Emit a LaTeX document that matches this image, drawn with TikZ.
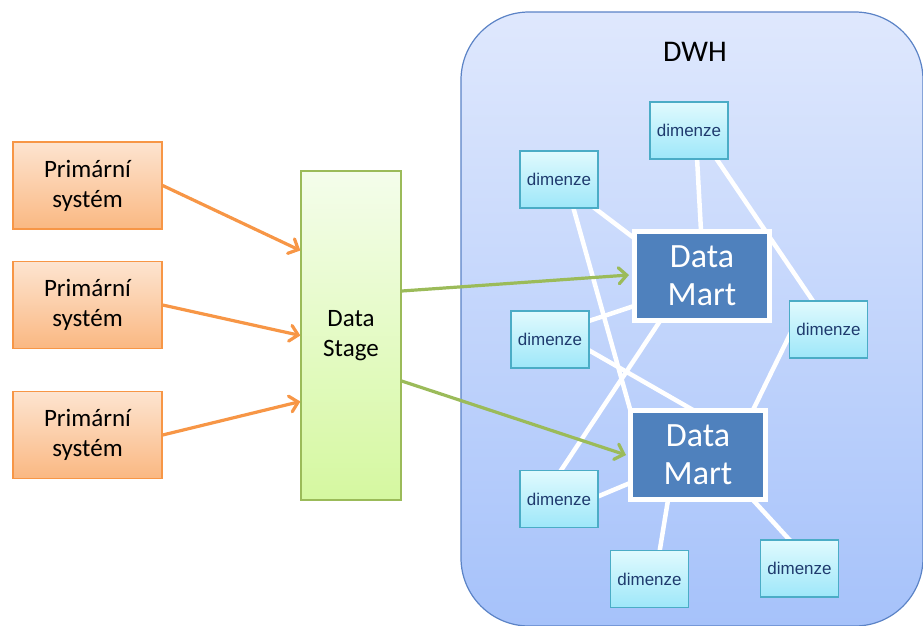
\documentclass[tikz,border=0pt]{standalone}
\usepackage{fontspec}
\setmainfont{Carlito}
\newfontfamily\dimfont{Liberation Sans}
\usetikzlibrary{arrows.meta,calc}
\pgfdeclarelayer{bg}
\pgfdeclarelayer{links}
\pgfsetlayers{bg,links,main}

\definecolor{srcTop}{HTML}{FDE4D0}
\definecolor{srcBot}{HTML}{FAB882}
\definecolor{srcLine}{HTML}{F79646}
\definecolor{stgTop}{HTML}{F4FDEB}
\definecolor{stgBot}{HTML}{D5F8A0}
\definecolor{stgLine}{HTML}{9BBB59}
\definecolor{dwhTop}{HTML}{DFE8FD}
\definecolor{dwhBot}{HTML}{A6C2FA}
\definecolor{dwhLine}{HTML}{5B83C6}
\definecolor{dimTop}{HTML}{E0FAFE}
\definecolor{dimBot}{HTML}{9EE7F9}
\definecolor{dimLine}{HTML}{4BACC6}
\definecolor{dimText}{HTML}{1F3B6E}
\definecolor{martFill}{HTML}{4F81BD}

\tikzset{
  srcbox/.style={rectangle, draw=srcLine, line width=1.3pt,
    top color=srcTop, bottom color=srcBot,
    minimum width=149pt, minimum height=87pt, inner sep=0pt,
    align=center, font=\fontsize{25}{30}\selectfont},
  stagebox/.style={rectangle, draw=stgLine, line width=1.3pt,
    top color=stgTop, bottom color=stgBot,
    minimum width=100pt, minimum height=329pt, inner sep=0pt,
    align=center, font=\fontsize{25}{30}\selectfont},
  dimbox/.style={rectangle, draw=dimLine, line width=1.2pt,
    top color=dimTop, bottom color=dimBot, text=dimText,
    minimum width=78pt, minimum height=57pt, inner sep=0pt,
    font=\dimfont\fontsize{17}{20}\selectfont},
  martbox/.style={rectangle, draw=white, line width=5pt, fill=martFill,
    text=white, minimum width=135pt, minimum height=89pt, inner sep=0pt,
    align=center, font=\fontsize{34}{38}\selectfont},
  srcarrow/.style={draw=srcLine, line width=3.2pt,
    -{Straight Barb[length=8pt,width=16pt,line cap=round]}},
  martarrow/.style={draw=stgLine, line width=3.2pt,
    -{Straight Barb[length=8pt,width=16pt,line cap=round]}},
  link/.style={draw=white, line width=4.5pt}
}

\begin{document}
\begin{tikzpicture}[x=1pt,y=-1pt]
\useasboundingbox (0,0) rectangle (923,625);

% warehouse container
\begin{pgfonlayer}{bg}
  \path[draw=dwhLine, line width=1.2pt, rounded corners=68pt,
        top color=dwhTop, bottom color=dwhBot]
    (461,12) rectangle (923,626);
\end{pgfonlayer}
\node (dwh) at (695,52) {\fontsize{30}{36}\selectfont DWH};

% source systems and staging area
\node[srcbox] (src1) at (87.5,185.5) {Primární\\systém};
\node[srcbox] (src2) at (87.5,305) {Primární\\systém};
\node[srcbox] (src3) at (87.5,435) {Primární\\systém};
\node[stagebox] (stage) at (351,335.5) {Data\\Stage};

% data marts
\node[martbox] (mart1) at (702,276) {Data\\Mart};
\node[martbox] (mart2) at (698,455) {Data\\Mart};

% dimensions
\node[dimbox] (dim1) at (689,130.5) {dimenze};
\node[dimbox] (dim2) at (559,179.5) {dimenze};
\node[dimbox] (dim3) at (550,339.5) {dimenze};
\node[dimbox] (dim4) at (828.5,329.5) {dimenze};
\node[dimbox] (dim5) at (559,499) {dimenze};
\node[dimbox] (dim6) at (649.5,579) {dimenze};
\node[dimbox] (dim7) at (799.5,568.5) {dimenze};

% links between marts and dimensions
\begin{pgfonlayer}{links}
  \path[link] ($(dim1.south)+(8,-2)$) -- ($(mart1.north)+(-1,2)$);
  \path[link] ($(dim1.south east)+(-13,-2)$) -- ($(dim4.north west)+(25,2)$);
  \path[link] ($(dim2.south east)+(-6,-2)$) -- ($(mart1.north west)+(2,9)$);
  \path[link] ($(dim2.south)+(14,-2)$) -- ($(mart2.north west)+(2,1)$);
  \path[link] ($(dim3.north east)+(-2,11)$) -- ($(mart1.south west)+(2,-17)$);
  \path[link] ($(dim3.east)+(-2,10)$) -- ($(mart2.north)+(-5,2)$);
  \path[link] ($(mart1.south)+(-42,-2)$) -- ($(dim5.north)+(1,2)$);
  \path[link] ($(dim4.west)+(2,3)$) -- ($(mart2.north east)+(-15,2)$);
  \path[link] ($(mart2.west)+(2,28)$) -- ($(dim5.east)+(-2,-2)$);
  \path[link] ($(mart2.south)+(-30,-2)$) -- ($(dim6.north)+(10,2)$);
  \path[link] ($(mart2.south east)+(-15,-2)$) -- ($(dim7.north west)+(31,2)$);
\end{pgfonlayer}

% loading flows
\draw[srcarrow] (src1.east) -- ($(stage.west)+(0,-85)$);
\draw[srcarrow] (src2.east) -- (stage.west);
\draw[srcarrow] (src3.east) -- ($(stage.west)+(0,66)$);
\draw[martarrow] ($(stage.east)+(0,-44.5)$) -- ($(mart1.west)+(-3,-1)$);
\draw[martarrow] ($(stage.east)+(0,45.5)$) -- ($(mart2.west)+(-2,0)$);
\end{tikzpicture}
\end{document}
